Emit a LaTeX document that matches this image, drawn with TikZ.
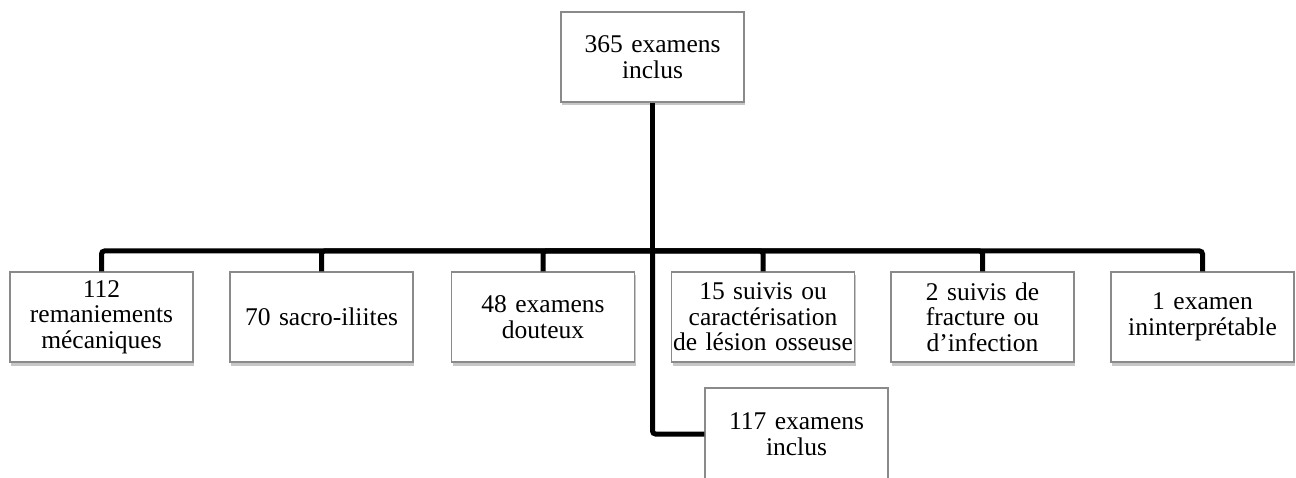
\documentclass[tikz,border=0pt]{standalone}
\usepackage{fontspec}
\setmainfont{Liberation Serif}
\usepackage{xcolor}
\usepackage{tikz}
\usetikzlibrary{shadows, positioning}
\definecolor{boxline}{HTML}{8A8A8A}
\definecolor{shade}{HTML}{9A9A9A}

\tikzset{
  casebox/.style={draw=boxline, line width=1.1pt, fill=white,
    minimum width=183pt, minimum height=90pt, inner sep=1.5pt,
    text width=180pt, align=center,
    font=\fontsize{25.5}{25.5}\selectfont,
    drop shadow={shadow xshift=1pt, shadow yshift=-3.5pt, fill=shade, opacity=.55}},
  link/.style={draw=black, line width=5pt, rounded corners=3pt}
}

\begin{document}
\begin{tikzpicture}[x=1pt, y=-1pt]
        \useasboundingbox[fill=white] (0,0) rectangle (1296,478);

        % root
        \node[casebox] (total) at (652.5,57) {365 examens\\inclus};

        % categories
        \node[casebox] (meca)   at (101.5,317) {112\\remaniements\\mécaniques};
        \node[casebox] (sacro)  at (321.5,317) {70 sacro-iliites};
        \node[casebox] (doute)  at (543,317)   {48 examens\\douteux};
        \node[casebox] (lesion) at (763,317)   {15 suivis ou\\caractérisation\\de lésion osseuse};
        \node[casebox] (fract)  at (982.5,317) {2 suivis de\\fracture ou\\d’infection};
        \node[casebox] (ininter) at (1202.5,317) {1 examen\\ininterprétable};
        \node[casebox, minimum height=92pt] (retenus) at (796.5,434) {117 examens\\inclus};

        \coordinate (bus) at (652.5,251);

        % connectors
        \draw[link] (total.south) -- (bus);
        \draw[link] (bus) -| (meca.north);
        \draw[link] (bus) -| (sacro.north);
        \draw[link] (bus) -| (doute.north);
        \draw[link] (bus) -| (lesion.north);
        \draw[link] (bus) -| (fract.north);
        \draw[link] (bus) -| (ininter.north);
        \draw[link] (bus) |- (retenus.west);
    \end{tikzpicture}
\end{document}
